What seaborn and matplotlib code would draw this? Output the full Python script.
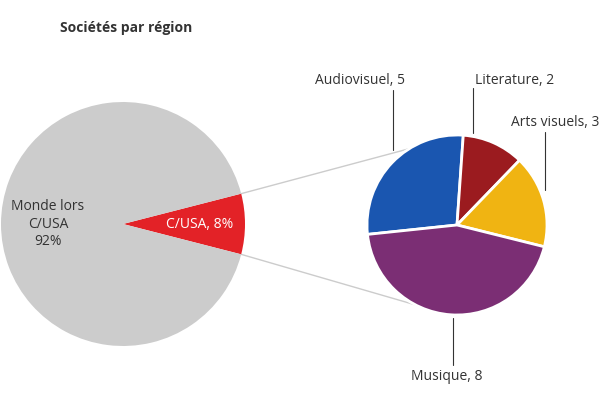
import numpy as np
import matplotlib
matplotlib.use("Agg")
import matplotlib.pyplot as plt
import seaborn as sns

sns.set_theme(style="white")
plt.rcParams['font.family'] = ['Open Sans', 'DejaVu Sans']

left_labels = ["C/USA", "Monde lors C/USA"]
left_values = [8, 92]
right_labels = ["Audiovisuel", "Literature", "Arts visuels", "Musique"]
right_values = [5, 2, 3, 8]
right_colors = ["#1a56b0", "#9b1b1f", "#f0b412", "#7b2e74"]
left_colors = ["#e32227", "#cccccc"]

fig = plt.figure(figsize=(6, 4), dpi=100)
ax = fig.add_axes([0, 0, 1, 1])
H = 400
lc, lr = (123, H - 224), 122
rc, rr = (457, H - 225), 90

half = left_values[0] / sum(left_values) * 180
ax.pie(left_values, colors=left_colors, startangle=-half, center=lc, radius=lr,
       wedgeprops=dict(linewidth=0))
ax.pie(right_values, colors=right_colors, startangle=186, counterclock=False,
       center=rc, radius=rr, wedgeprops=dict(edgecolor="white", linewidth=2))

# connection lines
a = np.deg2rad(half)
p1 = (lc[0] + lr*np.cos(a), lc[1] + lr*np.sin(a))
p2 = (lc[0] + lr*np.cos(a), lc[1] - lr*np.sin(a))
q1 = (rc[0] + rr*np.cos(np.deg2rad(122)), rc[1] + rr*np.sin(np.deg2rad(122)))
q2 = (rc[0] + rr*np.cos(np.deg2rad(-95)), rc[1] + rr*np.sin(np.deg2rad(-95)))
ax.plot([p1[0], q1[0]], [p1[1], q1[1]], color="#cccccc", lw=1, zorder=0)
ax.plot([p2[0], q2[0]], [p2[1], q2[1]], color="#cccccc", lw=1, zorder=0)

ax.text(200, H - 224, f"{left_labels[0]}, {left_values[0]}%", color="white",
        ha="center", va="center", fontsize=10)
ax.text(48, H - 224, f"Monde lors\nC/USA\n{left_values[1]}%", color="#333333",
        ha="center", va="center", fontsize=10, linespacing=1.2)

# right pie labels with leader lines
lab = [(393, 150, 90, 360, 80), (473, 133, 88, 515, 80),
       (545, 190, 132, 555, 122), (453, 318, 365, 447, 376)]
for (lx, y0, y1, tx, ty), n, v in zip(lab, right_labels, right_values):
    ax.plot([lx, lx], [H - y0, H - y1], color="#333333", lw=0.8)
    ax.text(tx, H - ty, f"{n}, {v}", ha="center", va="center", fontsize=10,
            color="#333333")

ax.text(60, H - 28, "Sociétés par région", fontsize=10, fontweight="bold",
        color="#333333", va="center")
ax.set_xlim(0, 600)
ax.set_ylim(0, 400)
ax.set_aspect("auto")
ax.axis("off")
fig.savefig("out.png", dpi=100)
